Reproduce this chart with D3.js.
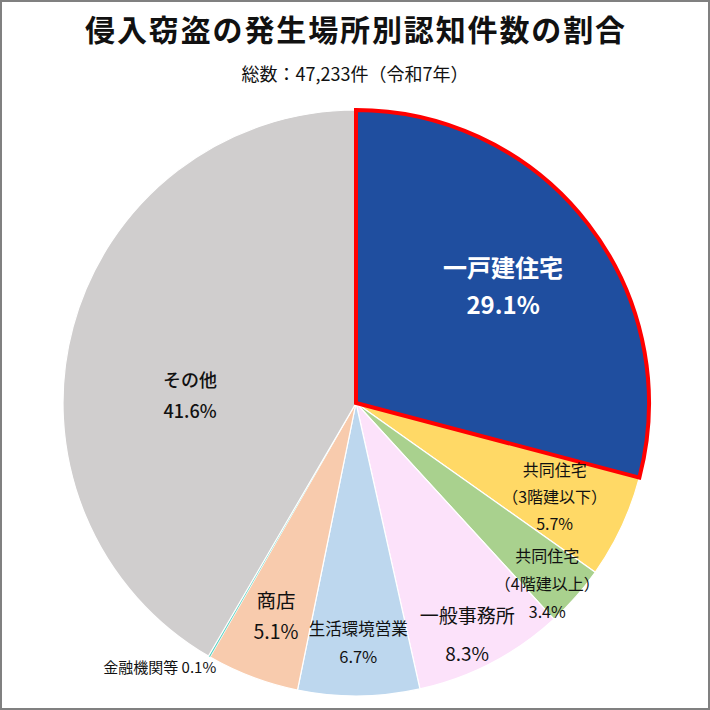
<!DOCTYPE html>
<html lang="ja">
<head>
<meta charset="UTF-8">
<title>侵入窃盗の発生場所別認知件数の割合</title>
<style>
  body { margin: 0; background: #fff; }
  svg { display: block; }
  text { font-family: 'Noto Sans CJK JP', 'Noto Sans', sans-serif; }
</style>
</head>
<body>
<div id="chart"></div>
<script src="https://d3js.org/d3.v7.min.js"></script>
<script>
// data
const categories = ['一戸建住宅', '共同住宅（3階建以下）', '共同住宅（4階建以上）', '一般事務所',
                    '生活環境営業', '商店', '金融機関等', 'その他'];
const labelLines = [['一戸建住宅'], ['共同住宅', '（3階建以下）'], ['共同住宅', '（4階建以上）'], ['一般事務所'],
                    ['生活環境営業'], ['商店'], ['金融機関等'], ['その他']];
const shares = [29.1, 5.7, 3.4, 8.3, 6.7, 5.1, 0.1, 41.6];
const title = '侵入窃盗の発生場所別認知件数の割合';
const subtitle = '総数：47,233件（令和7年）';

// styles / layout
const colors = ['#1F4E9F', '#FFD966', '#A9D18E', '#FCE2FA', '#BDD7EE', '#F8CBAD', '#4CCFBE', '#D0CECE'];
const width = 710, height = 710;
const cx = 356, cy = 403, radius = 293;

// per-slice label placement: radius factor, angle shift (deg), font size, line gap, colour, weight
const labelStyle = [
  { r: 0.64, da: -0.7, size: 24, gap: 37, fill: '#fff', weight: 700 },
  { r: 0.75, da: 0.3, size: 16, gap: 27, fill: '#111', weight: 400 },
  { r: 0.90, da: 2.1, size: 16, gap: 28, fill: '#111', weight: 400 },
  { r: 0.88, da: 2.0, size: 19, gap: 38, fill: '#111', weight: 400 },
  { r: 0.82, da: 0, size: 16.5, gap: 28, fill: '#111', weight: 400 },
  { r: 0.78, da: -0.2, size: 19.5, gap: 31, fill: '#111', weight: 400 },
  null,
  { r: 0.567, da: -12.7, size: 18, gap: 31, fill: '#111', weight: 500 }
];

const svg = d3.select('#chart').append('svg')
  .attr('width', width)
  .attr('height', height);

// frame
svg.append('rect')
  .attr('x', 1).attr('y', 1)
  .attr('width', width - 2).attr('height', height - 2)
  .attr('fill', '#fff')
  .attr('stroke', '#808080')
  .attr('stroke-width', 2);

svg.append('text')
  .attr('x', width / 2).attr('y', 41)
  .attr('text-anchor', 'middle')
  .attr('font-size', 30)
  .attr('font-weight', 700)
  .attr('fill', '#111')
  .attr('textLength', 540)
  .attr('lengthAdjust', 'spacing')
  .text(title);

svg.append('text')
  .attr('x', width / 2).attr('y', 81)
  .attr('text-anchor', 'middle')
  .attr('font-size', 18)
  .attr('fill', '#111')
  .text(subtitle);

const pie = d3.pie().sort(null).value(d => d);
const arcs = pie(shares);
const arc = d3.arc().innerRadius(0).outerRadius(radius);

const g = svg.append('g').attr('transform', `translate(${cx},${cy})`);

g.selectAll('path.slice')
  .data(arcs)
  .enter()
  .append('path')
  .attr('class', 'slice')
  .attr('d', arc)
  .attr('fill', (d, i) => colors[i])
  .attr('stroke', '#fff')
  .attr('stroke-width', (d, i) => i === 6 ? 0.3 : 1.2);

// highlighted slice outline on top
g.append('path')
  .attr('d', arc(arcs[0]))
  .attr('fill', 'none')
  .attr('stroke', '#FF0000')
  .attr('stroke-width', 4)
  .attr('stroke-linejoin', 'miter');

// labels
arcs.forEach((d, i) => {
  const st = labelStyle[i];
  if (!st) return;
  const a = (d.startAngle + d.endAngle) / 2 + st.da * Math.PI / 180;
  const x = Math.sin(a) * radius * st.r;
  const y = -Math.cos(a) * radius * st.r;
  const lines = labelLines[i].concat([d3.format('.1f')(shares[i]) + '%']);
  const top = y - (lines.length - 1) * st.gap / 2;
  const t = g.append('text')
    .attr('text-anchor', 'middle')
    .attr('font-size', st.size)
    .attr('font-weight', st.weight)
    .attr('fill', st.fill);
  lines.forEach((ln, k) => {
    t.append('tspan')
      .attr('x', x)
      .attr('y', top + k * st.gap)
      .attr('dy', '0.35em')
      .text(ln);
  });
});

// tiny slice: label outside, to the lower left
{
  const d = arcs[6];
  const a = (d.startAngle + d.endAngle) / 2;
  const ex = Math.sin(a) * radius, ey = -Math.cos(a) * radius;
  g.append('text')
    .attr('x', ex + 7)
    .attr('y', ey + 11)
    .attr('text-anchor', 'end')
    .attr('dy', '0.35em')
    .attr('font-size', 15)
    .attr('fill', '#111')
    .text(labelLines[6][0] + ' ' + d3.format('.1f')(shares[6]) + '%');
}
</script>
</body>
</html>
